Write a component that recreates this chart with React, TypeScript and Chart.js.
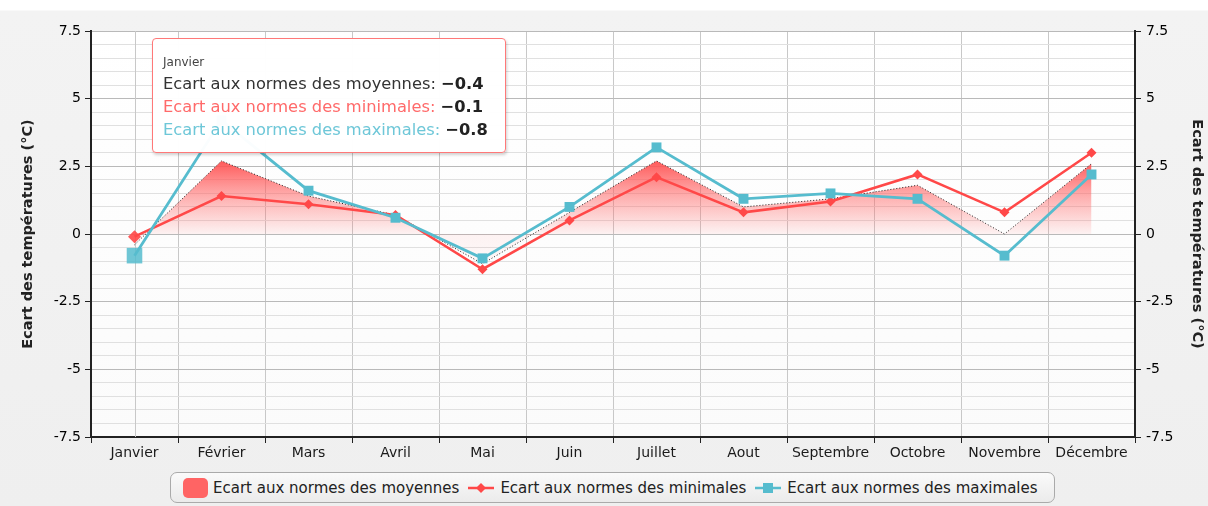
import React, { useEffect, useRef, useState } from 'react';
import { Chart, registerables } from 'chart.js';
Chart.register(...registerables);

const months = ['Janvier', 'Février', 'Mars', 'Avril', 'Mai', 'Juin', 'Juillet', 'Aout', 'Septembre', 'Octobre', 'Novembre', 'Décembre'];
const moyennes = [-0.4, 2.7, 1.4, 0.7, -1.1, 0.8, 2.7, 1.0, 1.3, 1.8, 0.0, 2.6];
const minimales = [-0.1, 1.4, 1.1, 0.7, -1.3, 0.5, 2.1, 0.8, 1.2, 2.2, 0.8, 3.0];
const maximales = [-0.8, 4.2, 1.6, 0.6, -0.9, 1.0, 3.2, 1.3, 1.5, 1.3, -0.8, 2.2];
const seriesNames = ['Ecart aux normes des moyennes', 'Ecart aux normes des minimales', 'Ecart aux normes des maximales'];
const axisTitle = 'Ecart des températures (°C)';
const yMin = -7.5;
const yMax = 7.5;
const majorStep = 2.5;
const minorStep = 0.5;
const tooltipIndex = 0;

const RED = 'rgb(255,72,72)';
const BLUE = 'rgb(86,188,206)';
const FONT = "'DejaVu Sans', 'Open Sans', sans-serif";

const isMajor = (v: number) => Math.abs(v / majorStep - Math.round(v / majorStep)) < 1e-6;
const fmt = (v: number) => String(v);
const fmtTip = (v: number) => v.toFixed(1).replace('-', '\u2212');

const extraPlugin = {
  id: 'extras',
  beforeDraw(chart: any) {
    const { ctx, chartArea } = chart;
    ctx.save();
    const g = ctx.createLinearGradient(0, chartArea.top, 0, chartArea.bottom);
    g.addColorStop(0, '#ffffff');
    g.addColorStop(1, '#fbfbfb');
    ctx.fillStyle = g;
    ctx.fillRect(chartArea.left, chartArea.top, chartArea.right - chartArea.left, chartArea.bottom - chartArea.top);
    ctx.restore();
  },
  beforeDatasetsDraw(chart: any) {
    const { ctx, chartArea } = chart;
    const x = chart.scales.x.getPixelForValue(0);
    ctx.save();
    ctx.strokeStyle = '#c8c8c8';
    ctx.lineWidth = 1;
    ctx.beginPath();
    ctx.moveTo(Math.round(x) + 0.5, chartArea.top);
    ctx.lineTo(Math.round(x) + 0.5, chartArea.bottom);
    ctx.stroke();
    ctx.restore();
  },
};

function LineIcon({ color, shape }: { color: string; shape: 'diamond' | 'square' }) {
  return (
    <svg width="28" height="16" style={{ marginRight: 5 }}>
      <line x1="1" y1="8" x2="27" y2="8" stroke={color} strokeWidth="2.5" />
      {shape === 'diamond' ? (
        <polygon points="14,3 19,8 14,13 9,8" fill={color} />
      ) : (
        <rect x="9" y="3" width="10" height="10" fill={color} />
      )}
    </svg>
  );
}

export default function App() {
  const canvasRef = useRef<HTMLCanvasElement | null>(null);
  const [tipPos, setTipPos] = useState<{ left: number; top: number } | null>(null);

  useEffect(() => {
    const canvas = canvasRef.current;
    if (!canvas) return;
    const chart = new Chart(canvas, {
      type: 'line',
      data: {
        labels: months,
        datasets: [
          {
            label: seriesNames[0],
            data: moyennes,
            fill: 'origin',
            order: 10,
            borderColor: '#222',
            borderWidth: 1,
            borderDash: [1, 2],
            pointRadius: 0,
            pointHoverRadius: 0,
            tension: 0,
            backgroundColor: (ctx: any) => {
              const c = ctx.chart;
              const ca = c.chartArea;
              if (!ca) return 'rgba(255,90,90,0.5)';
              const y = c.scales.y;
              const top = y.getPixelForValue(Math.max(...moyennes));
              const zero = y.getPixelForValue(0);
              const bot = y.getPixelForValue(Math.min(...moyennes));
              const g = c.ctx.createLinearGradient(0, top, 0, bot);
              const zf = (zero - top) / (bot - top);
              g.addColorStop(0, 'rgba(255,80,80,0.95)');
              g.addColorStop(zf * 0.5, 'rgba(255,100,100,0.5)');
              g.addColorStop(zf, 'rgba(255,110,110,0.08)');
              g.addColorStop(1, 'rgba(255,110,110,0.03)');
              return g;
            },
          },
          {
            label: seriesNames[1],
            data: minimales,
            order: 2,
            borderColor: RED,
            backgroundColor: RED,
            hoverBackgroundColor: 'rgba(255,72,72,0.9)',
            borderWidth: 2.5,
            pointStyle: 'rectRot',
            pointRadius: 5,
            pointHoverRadius: 6.5,
            pointBorderWidth: 0,
            pointHoverBorderWidth: 0,
            tension: 0,
            fill: false,
          },
          {
            label: seriesNames[2],
            data: maximales,
            order: 1,
            borderColor: BLUE,
            backgroundColor: BLUE,
            hoverBackgroundColor: 'rgba(86,188,206,0.85)',
            borderWidth: 2.8,
            pointStyle: 'rect',
            pointRadius: 7,
            pointHoverRadius: 11,
            pointBorderWidth: 0,
            pointHoverBorderWidth: 0,
            tension: 0,
            fill: false,
          },
        ],
      },
      options: {
        responsive: true,
        maintainAspectRatio: false,
        animation: false,
        events: [],
        layout: { padding: { top: 31, left: 0, right: 0, bottom: 0 } },
        plugins: {
          legend: { display: false },
          tooltip: { enabled: false },
        },
        scales: {
          x: {
            type: 'category',
            offset: true,
            grid: {
              offset: true,
              color: '#c8c8c8',
              tickColor: '#222',
              tickLength: 6,
              lineWidth: 1,
            },
            border: { color: '#222', width: 2 },
            ticks: {
              color: '#1a1a1a',
              font: { family: FONT, size: 14 },
              padding: 2,
              maxRotation: 0,
              autoSkip: false,
            },
            afterFit: (s: any) => { s.height = 33; },
          },
          y: {
            type: 'linear',
            position: 'left',
            min: yMin,
            max: yMax,
            ticks: {
              stepSize: minorStep,
              autoSkip: false,
              color: '#000',
              font: { family: FONT, size: 14 },
              padding: 4,
              callback: (v: any) => (isMajor(Number(v)) ? fmt(Number(v)) : ''),
            },
            grid: {
              color: (c: any) => (c.tick && isMajor(c.tick.value) ? '#b9b9b9' : '#e0e0e0'),
              tickColor: (c: any) => (c.tick && isMajor(c.tick.value) ? '#222' : 'rgba(0,0,0,0)'),
              tickLength: 6,
              lineWidth: 1,
            },
            border: { color: '#222', width: 2 },
            title: {
              display: true,
              text: axisTitle,
              color: '#222',
              font: { family: FONT, size: 14.5, weight: 'bold' },
              padding: { top: 20, bottom: 0 },
            },
            afterFit: (s: any) => { s.width = 91; },
          },
          y2: {
            type: 'linear',
            position: 'right',
            min: yMin,
            max: yMax,
            ticks: {
              stepSize: majorStep,
              color: '#000',
              font: { family: FONT, size: 14 },
              padding: 5,
              callback: (v: any) => fmt(Number(v)),
            },
            grid: {
              drawOnChartArea: false,
              tickColor: '#222',
              tickLength: 6,
            },
            border: { color: '#222', width: 2 },
            title: {
              display: true,
              text: axisTitle,
              color: '#222',
              font: { family: FONT, size: 14.5, weight: 'bold' },
              padding: { top: 3, bottom: 0 },
            },
            afterFit: (s: any) => { s.width = 73; },
          },
        },
      },
      plugins: [extraPlugin],
    } as any);

    chart.setActiveElements([
      { datasetIndex: 1, index: tooltipIndex },
      { datasetIndex: 2, index: tooltipIndex },
    ]);
    chart.update('none');
    const ca = chart.chartArea;
    setTipPos({ left: ca.left + 61, top: ca.top + 7 });

    return () => chart.destroy();
  }, []);

  const tipRows = [
    { name: seriesNames[0], color: '#333', v: moyennes[tooltipIndex] },
    { name: seriesNames[1], color: '#ff6a6a', v: minimales[tooltipIndex] },
    { name: seriesNames[2], color: '#6ec7d8', v: maximales[tooltipIndex] },
  ];

  return (
    <div
      style={{
        position: 'absolute',
        left: 0,
        top: 0,
        width: 1208,
        height: 506,
        background: 'linear-gradient(180deg, #ffffff 0px, #ffffff 10px, #f3f3f3 11px, #efefef 100%)',
        fontFamily: FONT,
        overflow: 'hidden',
      }}
    >
      <div style={{ position: 'absolute', left: 0, top: 0, width: 1208, height: 470 }}>
        <canvas ref={canvasRef} />
      </div>
      {tipPos && (
        <div
          style={{
            position: 'absolute',
            left: tipPos.left,
            top: tipPos.top,
            width: 354,
            height: 115,
            boxSizing: 'border-box',
            background: 'rgba(255,255,255,0.97)',
            border: '1px solid #ff7878',
            borderRadius: 4,
            boxShadow: '1px 2px 3px rgba(0,0,0,0.18)',
            padding: '15px 8px 0 10px',
            color: '#333',
          }}
        >
          <div style={{ fontSize: 12, lineHeight: '16px', color: '#444', marginBottom: 2 }}>{months[tooltipIndex]}</div>
          {tipRows.map((r) => (
            <div key={r.name} style={{ fontSize: 16.3, lineHeight: '23px', whiteSpace: 'nowrap' }}>
              <span style={{ color: r.color }}>{r.name}: </span>
              <b style={{ color: '#222' }}>{fmtTip(r.v)}</b>
            </div>
          ))}
        </div>
      )}
      <div
        style={{
          position: 'absolute',
          left: 170,
          top: 472,
          width: 885,
          height: 31,
          boxSizing: 'border-box',
          border: '1px solid #aaaaaa',
          borderRadius: 7,
          background: 'linear-gradient(180deg, #fafafa, #ebebeb)',
          display: 'flex',
          alignItems: 'center',
          paddingLeft: 12,
          fontSize: 15,
          color: '#222',
          whiteSpace: 'nowrap',
        }}
      >
        <span style={{ display: 'inline-block', width: 25, height: 20, borderRadius: 5, background: '#ff6464', marginRight: 5 }} />
        <span style={{ marginRight: 8 }}>{seriesNames[0]}</span>
        <LineIcon color={RED} shape="diamond" />
        <span style={{ marginRight: 8 }}>{seriesNames[1]}</span>
        <LineIcon color={BLUE} shape="square" />
        <span>{seriesNames[2]}</span>
      </div>
    </div>
  );
}
